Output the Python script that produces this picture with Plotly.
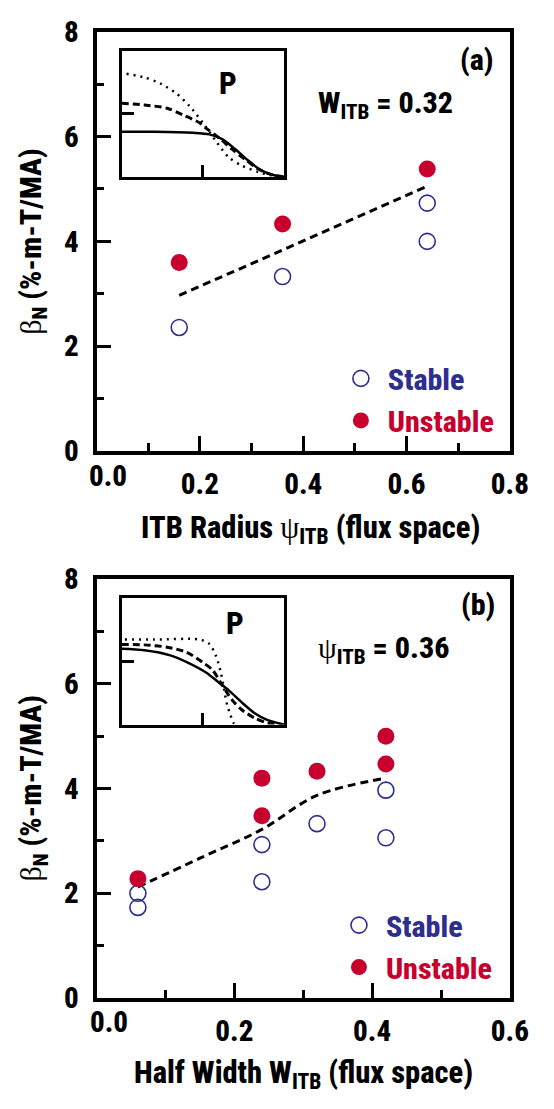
import plotly.graph_objects as go

W, H = 554, 1109

# ---- panel (a): beta_N versus ITB radius (W_ITB = 0.32) ----
psi_stable = [0.16, 0.36, 0.64, 0.64]
beta_stable_a = [2.36, 3.33, 4.73, 4.00]
psi_unstable = [0.16, 0.36, 0.64]
beta_unstable_a = [3.60, 4.33, 5.38]
fit_a_x = [0.16, 0.64]
fit_a_y = [2.97, 5.05]

# ---- panel (b): beta_N versus ITB half width (psi_ITB = 0.36) ----
w_stable = [0.06, 0.06, 0.24, 0.24, 0.32, 0.42, 0.42]
beta_stable_b = [2.00, 1.73, 2.22, 2.93, 3.33, 3.97, 3.06]
w_unstable = [0.06, 0.24, 0.24, 0.32, 0.42, 0.42]
beta_unstable_b = [2.28, 3.48, 4.20, 4.33, 4.47, 5.00]
fit_b_x = [0.06, 0.15, 0.24, 0.32, 0.42]
fit_b_y = [2.12, 2.67, 3.22, 3.87, 4.20]

# ---- tick labels (the 0.0 label is set just inboard of the corner) ----
xticks_a = [0.2, 0.4, 0.6, 0.8]
xticks_b = [0.2, 0.4, 0.6]
yticks = [0, 2, 4, 6, 8]

# ---- pressure profile sketches (normalised radius, normalised P) ----
pa_solid_x = [0.0, 0.20, 0.44, 0.54, 0.62, 0.70, 0.78, 0.86, 0.94, 1.0]
pa_solid_y = [0.358, 0.358, 0.35, 0.338, 0.30, 0.22, 0.13, 0.052, 0.013, 0.0]
pa_dash_x = [0.0, 0.14, 0.28, 0.38, 0.48, 0.53, 0.60, 0.68, 0.76, 0.84, 0.92, 1.0]
pa_dash_y = [0.584, 0.571, 0.545, 0.49, 0.43, 0.377, 0.31, 0.22, 0.14, 0.065, 0.02, 0.0]
pa_dot_x = [0.03, 0.14, 0.24, 0.34, 0.42, 0.50, 0.58, 0.66, 0.74, 0.84, 0.92, 1.0]
pa_dot_y = [0.818, 0.79, 0.74, 0.66, 0.56, 0.43, 0.286, 0.156, 0.09, 0.04, 0.013, 0.0]

pb_solid_x = [0.0, 0.14, 0.30, 0.42, 0.52, 0.60, 0.66, 0.74, 0.82, 0.90, 1.0]
pb_solid_y = [0.597, 0.585, 0.545, 0.48, 0.41, 0.33, 0.27, 0.175, 0.09, 0.035, 0.0]
pb_dash_x = [0.0, 0.14, 0.28, 0.40, 0.50, 0.56, 0.62, 0.68, 0.74, 0.82, 0.90, 1.0]
pb_dash_y = [0.63, 0.628, 0.61, 0.57, 0.49, 0.43, 0.31, 0.195, 0.117, 0.052, 0.013, 0.0]
pb_dot_x = [0.02, 0.20, 0.48, 0.54, 0.58, 0.61, 0.63, 0.65, 0.67, 0.69, 0.71]
pb_dot_y = [0.67, 0.67, 0.67, 0.636, 0.545, 0.416, 0.286, 0.156, 0.078, 0.013, 0.0]

FONT = "Roboto Condensed, Liberation Sans Narrow, Arial Narrow, sans-serif"
SYM = "Liberation Serif, DejaVu Serif, serif"
NAVY = "#2e2e8e"
RED = "#c8002d"
NB = "\u00a0"
WEIGHT = 800


def px(x):
    return x / W


def py(y):
    return 1 - y / H


def sym(ch):
    return f"<span style=\"font-family:{SYM};font-weight:normal\">{ch}</span>"


fig = go.Figure()

# panel (a) data
fig.add_trace(go.Scatter(x=fit_a_x, y=fit_a_y, mode="lines", xaxis="x", yaxis="y",
                         line=dict(color="black", width=3, dash="8px,5px"), showlegend=False))
fig.add_trace(go.Scatter(x=psi_stable, y=beta_stable_a, mode="markers", xaxis="x", yaxis="y",
                         name=f"{NB}<span style='color:{NAVY}'>Stable</span>", legend="legend",
                         marker=dict(symbol="circle-open", size=16, color=NAVY, line=dict(width=1.6))))
fig.add_trace(go.Scatter(x=psi_unstable, y=beta_unstable_a, mode="markers", xaxis="x", yaxis="y",
                         name=f"{NB}<span style='color:{RED}'>Unstable</span>", legend="legend",
                         marker=dict(symbol="circle", size=17, color=RED)))

# panel (b) data
fig.add_trace(go.Scatter(x=fit_b_x, y=fit_b_y, mode="lines", xaxis="x2", yaxis="y2",
                         line=dict(color="black", width=3, dash="8px,5px", shape="spline"),
                         showlegend=False))
fig.add_trace(go.Scatter(x=w_stable, y=beta_stable_b, mode="markers", xaxis="x2", yaxis="y2",
                         name=f"{NB}<span style='color:{NAVY}'>Stable</span>", legend="legend2",
                         marker=dict(symbol="circle-open", size=16, color=NAVY, line=dict(width=1.6))))
fig.add_trace(go.Scatter(x=w_unstable, y=beta_unstable_b, mode="markers", xaxis="x2", yaxis="y2",
                         name=f"{NB}<span style='color:{RED}'>Unstable</span>", legend="legend2",
                         marker=dict(symbol="circle", size=17, color=RED)))

# profile insets
for xs, ys, xa, ya, w, dash in [
    (pa_solid_x, pa_solid_y, "x3", "y3", 2.5, "solid"),
    (pa_dash_x, pa_dash_y, "x3", "y3", 3, "7px,4px"),
    (pa_dot_x, pa_dot_y, "x3", "y3", 2.5, "2px,5px"),
    (pb_solid_x, pb_solid_y, "x4", "y4", 2.5, "solid"),
    (pb_dash_x, pb_dash_y, "x4", "y4", 3, "7px,4px"),
    (pb_dot_x, pb_dot_y, "x4", "y4", 2.5, "2px,5px"),
]:
    fig.add_trace(go.Scatter(x=xs, y=ys, mode="lines", xaxis=xa, yaxis=ya, showlegend=False,
                             line=dict(color="black", width=w, dash=dash, shape="spline", smoothing=0.8)))

tickfont = dict(family=FONT, size=29, color="black", weight=WEIGHT)


def main_x(dom, rng, vals, anchor):
    return dict(domain=dom, range=rng, anchor=anchor, tickmode="array", tickvals=vals,
                tickformat=".1f", ticklabeloverflow="allow",
                showline=True, mirror=True, linewidth=4, linecolor="black",
                ticks="inside", ticklen=15, tickwidth=3, tickcolor="black",
                minor=dict(ticks="inside", ticklen=8, tickwidth=2.5, tick0=0, dtick=0.1,
                           tickcolor="black"),
                showgrid=False, zeroline=False, tickfont=tickfont, ticklabelstandoff=4,
                fixedrange=True)


def main_y(dom, anchor):
    return dict(domain=dom, range=[0, 8], anchor=anchor, tickmode="array", tickvals=yticks,
                showline=True, mirror=True, linewidth=4, linecolor="black",
                ticks="inside", ticklen=14, tickwidth=3, tickcolor="black",
                minor=dict(ticks="inside", ticklen=7, tickwidth=2.5, tick0=0, dtick=1,
                           tickcolor="black"),
                showgrid=False, zeroline=False, tickfont=tickfont, ticklabelstandoff=8,
                fixedrange=True)


def inset_ax(dom, anchor):
    return dict(domain=dom, range=[0, 1], anchor=anchor, showline=True, mirror=True,
                linewidth=3, linecolor="black", ticks="inside", tickvals=[0.5], ticklen=12,
                tickwidth=2.5, tickcolor="black", showticklabels=False, showgrid=False,
                zeroline=False, fixedrange=True)


XA = [px(100), px(528)]
legfont = dict(family=FONT, size=30, weight=WEIGHT)
fig.update_layout(
    width=W, height=H, margin=dict(l=0, r=0, t=0, b=0),
    paper_bgcolor="white", plot_bgcolor="rgba(0,0,0,0)",
    xaxis=main_x(XA, [0, 0.8], xticks_a, "y"),
    yaxis=main_y([py(448), py(15)], "x"),
    xaxis2=main_x(XA, [0, 0.6], xticks_b, "y2"),
    yaxis2=main_y([py(1012), py(580)], "x2"),
    xaxis3=inset_ax([px(126), px(294)], "y3"),
    yaxis3=inset_ax([py(165), py(35)], "x3"),
    xaxis4=inset_ax([px(126), px(294)], "y4"),
    yaxis4=inset_ax([py(730), py(599)], "x4"),
    legend=dict(x=px(353), y=py(346), xanchor="left", yanchor="top", font=legfont,
                bgcolor="rgba(0,0,0,0)", itemwidth=30, tracegroupgap=0),
    legend2=dict(x=px(351), y=py(910), xanchor="left", yanchor="top", font=legfont,
                 bgcolor="rgba(0,0,0,0)", itemwidth=30, tracegroupgap=0),
    showlegend=True,
)

bold = dict(family=FONT, size=30, color="black", weight=WEIGHT)
title_font = dict(bold, size=30.5)
ann = [
    dict(x=px(494), y=py(44), text="(a)"),
    dict(x=px(236), y=py(69), text="P", font=dict(bold, size=31)),
    dict(x=px(327), y=py(90), text="W<sub>ITB</sub> = 0.32", xanchor="left"),
    dict(x=px(495), y=py(606), text="(b)"),
    dict(x=px(243), y=py(626), text="P", font=dict(bold, size=31)),
    dict(x=px(327), y=py(653), text=sym("ψ") + "<sub>ITB</sub> = 0.36", xanchor="left"),
    dict(x=px(34), y=py(232), text=sym("β") + "<sub>N</sub> (%-m-T/MA)", textangle=-90),
    dict(x=px(34), y=py(796), text=sym("β") + "<sub>N</sub> (%-m-T/MA)", textangle=-90),
    dict(x=px(322), y=py(529), text="ITB Radius " + sym("ψ") + "<sub>ITB</sub> (flux space)",
         font=title_font),
    dict(x=px(314), y=py(1091), text="Half Width W<sub>ITB</sub> (flux space)", font=title_font),
    # leftmost x tick labels, set just inboard of the corner
    dict(x=px(112), y=py(474), text="0.0", font=tickfont),
    dict(x=px(113), y=py(1037), text="0.0", font=tickfont),
]
for a in ann:
    a.setdefault("xanchor", "center")
    a.setdefault("font", bold)
    fig.add_annotation(xref="paper", yref="paper", showarrow=False, yanchor="middle", **a)

fig.write_html("out.html")
